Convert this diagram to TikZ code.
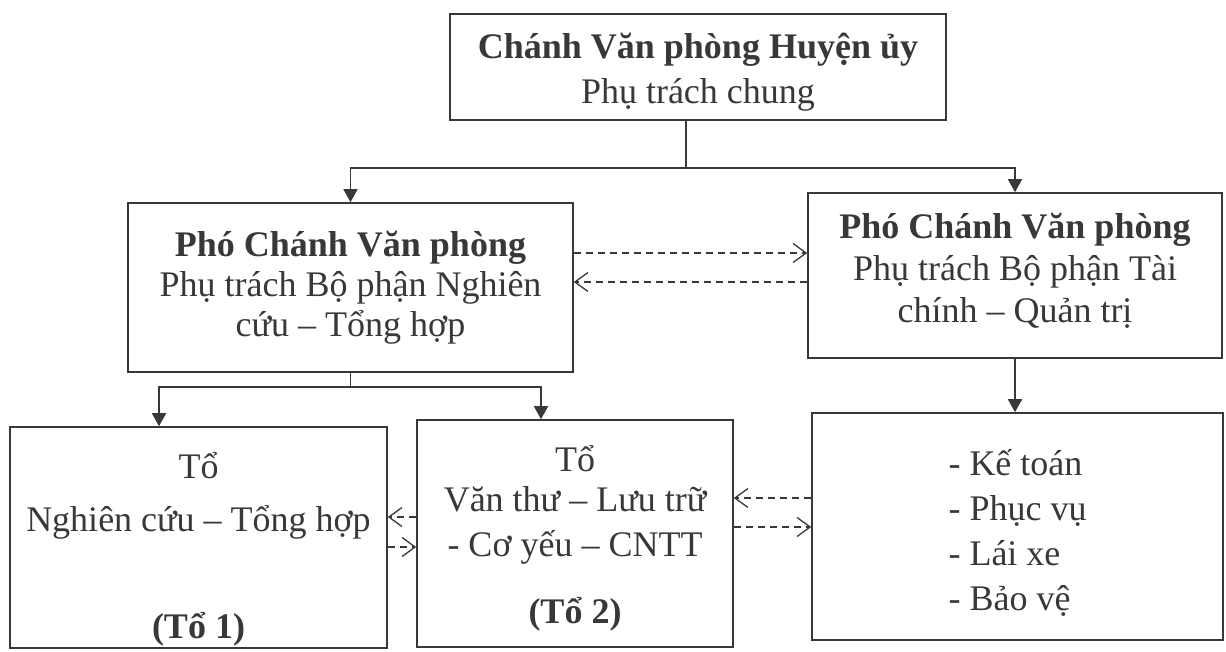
\documentclass[tikz,border=0pt]{standalone}
\usepackage{fontspec}
\setmainfont{Liberation Serif}
\usepackage{xcolor}
\usetikzlibrary{arrows.meta,positioning}
\definecolor{ink}{gray}{0.22}

\begin{document}
\begin{tikzpicture}[x=1pt,y=-1pt]
            \tikzset{box/.style = {draw=ink, line width=1.6pt, align=center, inner sep=0pt, text=ink, font=\fontsize{36}{42}\selectfont}}
            \tikzset{edge/.style = {draw=ink, line width=1.6pt, -{Triangle[length=13pt,width=14pt]}}}
            \tikzset{link/.style = {draw=ink, line width=1.3pt, dash pattern=on 7pt off 5pt, -{Straight Barb[length=13pt,width=19pt]}}}

            \fill[white] (0,0) rectangle (1226,651);
            \useasboundingbox (0,0) rectangle (1226,651);

            % vertices
            \node[box, minimum width=496, minimum height=106] (chanh) at (698,67) {\rule{0pt}{36pt}\textbf{Chánh Văn phòng Huyện ủy}\\[3pt]Phụ trách chung};
            \node[box, minimum width=445, minimum height=169] (pho1) at (350.5,287.5) {\textbf{Phó Chánh Văn phòng}\\[-2pt]Phụ trách Bộ phận Nghiên\\[-2pt]cứu -- Tổng hợp};
            \node[box, minimum width=414, minimum height=165] (pho2) at (1015,275.5) {\textbf{Phó Chánh Văn phòng}\\Phụ trách Bộ phận Tài\\chính -- Quản trị\rule[-16pt]{0pt}{16pt}};
            \node[box, minimum width=377, minimum height=221] (to1) at (198.5,537.5) {\rule{0pt}{50pt}Tổ\\[11pt]Nghiên cứu -- Tổng hợp\\[65pt]\textbf{(Tổ 1)}};
            \node[box, minimum width=316, minimum height=227] (to2) at (575,533.5) {\rule{0pt}{35pt}Tổ\\[-2pt]Văn thư -- Lưu trữ\\[3pt]- Cơ yếu -- CNTT\\[25pt]\textbf{(Tổ 2)}};
            \node[box, align=left, minimum width=411, minimum height=227] (to3) at (1017.5,526.5) {\rule{0pt}{38pt}- Kế toán\\[3pt]- Phục vụ\\[3pt]- Lái xe\\[3pt]- Bảo vệ};

            \coordinate (split1) at (686,168);
            \coordinate (split2) at (350.5,387);

            % edges
            \draw[edge] (chanh.south -| split1) -- (split1) -| (pho1.north);
            \draw[edge] (split1) -| (pho2.north);
            \draw[edge] (pho1.south) -- (split2) -| ([xshift=-39.5pt]to1.north);
            \draw[edge] (split2) -| ([xshift=-34pt]to2.north);
            \draw[edge] (pho2.south) -- (pho2.south |- to3.north);

            % dashed links
            \draw[link] ([yshift=34.5pt]pho1.east) -- ([yshift=34.5pt]pho1.east -| pho2.west);
            \draw[link] ([yshift=5.5pt]pho1.east -| pho2.west) -- ([yshift=5.5pt]pho1.east);
            \draw[link] ([yshift=20.5pt]to1.east -| to2.west) -- ([yshift=20.5pt]to1.east);
            \draw[link] ([yshift=-9.5pt]to1.east) -- ([yshift=-9.5pt]to1.east -| to2.west);
            \draw[link] ([yshift=35.5pt]to2.east -| to3.west) -- ([yshift=35.5pt]to2.east);
            \draw[link] ([yshift=6.5pt]to2.east) -- ([yshift=6.5pt]to2.east -| to3.west);

          \end{tikzpicture}
\end{document}
